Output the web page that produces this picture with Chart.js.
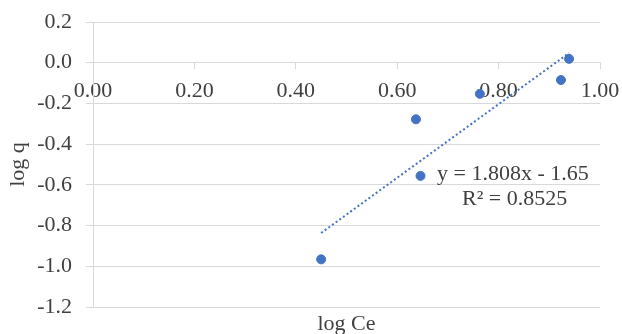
<!DOCTYPE html>
<html>
<head>
<meta charset="utf-8">
<script src="https://cdn.jsdelivr.net/npm/chart.js@4.4.0/dist/chart.umd.min.js"></script>
<style>
  html, body { margin: 0; padding: 0; background: #fff; }
  #wrap { width: 622px; height: 334px; }
</style>
</head>
<body>
<div id="wrap"><canvas id="myChart" width="622" height="334"></canvas></div>
<script>
// datos
const logCe = [0.450, 0.637, 0.646, 0.763, 0.923, 0.939];
const logQ = [-0.966, -0.278, -0.556, -0.153, -0.085, 0.019];
const xTicks = [0, 0.2, 0.4, 0.6, 0.8, 1.0];
const yTicks = [-1.2, -1.0, -0.8, -0.6, -0.4, -0.2, 0.0, 0.2];

// línea de tendencia (ecuación del gráfico)
const slope = 1.808;
const intercept = -1.65;
const eqText = 'y = 1.808x - 1.65';
const r2Text = 'R² = 0.8525';

const blue = '#4472C4';
const gridColor = '#d9d9d9';
const textColor = '#404040';
const fontFam = '"Liberation Serif", "Times New Roman", serif';
const fontSize = 22;

const xMin = Math.min(...logCe);
const xMax = Math.max(...logCe);
const trend = [
    { x: xMin, y: slope * xMin + intercept },
    { x: xMax, y: slope * xMax + intercept }
];

const points = logCe.map((x, i) => ({ x: x, y: logQ[i] }));

// texto de la ecuación
const eqPlugin = {
    id: 'eqText',
    afterDraw(chart) {
        const c = chart.ctx;
        c.save();
        c.font = fontSize + 'px ' + fontFam;
        c.fillStyle = textColor;
        c.textAlign = 'left';
        c.textBaseline = 'alphabetic';
        c.fillText(eqText, 437, 180);
        c.fillText(r2Text, 462, 205);
        c.restore();
    }
};

let myChart = new Chart(document.getElementById('myChart').getContext('2d'), {
    type: 'scatter',
    data: {
        datasets: [{
            label: 'datos',
            data: points,
            backgroundColor: blue,
            borderColor: blue,
            pointRadius: 4.5,
            pointHoverRadius: 4.5
        }, {
            label: 'tendencia',
            data: trend,
            type: 'line',
            showLine: true,
            borderColor: blue,
            borderWidth: 2,
            borderDash: [2, 2.5],
            pointRadius: 0,
            fill: false
        }]
    },
    options: {
        responsive: false,
        animation: false,
        layout: { padding: { top: 22, right: 22, left: 0, bottom: 0 } },
        plugins: {
            legend: { display: false },
            tooltip: { enabled: false }
        },
        scales: {
            x: {
                type: 'linear',
                position: { y: 0 },
                min: 0,
                max: 1,
                afterBuildTicks: (s) => { s.ticks = xTicks.map(v => ({ value: v })); },
                ticks: {
                    color: textColor,
                    font: { family: fontFam, size: fontSize },
                    padding: 9,
                    maxRotation: 0,
                    callback: (v) => v.toFixed(2)
                },
                grid: {
                    drawOnChartArea: false,
                    drawTicks: true,
                    tickLength: 6,
                    color: gridColor
                },
                border: { color: gridColor, width: 1 },
                afterFit: (s) => { s.paddingLeft = 0; s.paddingRight = 0; }
            },
            x2: {
                type: 'linear',
                position: 'bottom',
                min: 0,
                max: 1,
                ticks: { display: false },
                grid: { display: false, drawTicks: false },
                border: { display: false },
                title: {
                    display: true,
                    text: 'log Ce',
                    color: textColor,
                    font: { family: fontFam, size: fontSize, lineHeight: 0.85 },
                    padding: { top: 0, bottom: 0 }
                },
                afterFit: (s) => { s.height = 27; s.paddingLeft = 0; s.paddingRight = 0; }
            },
            y: {
                type: 'linear',
                position: 'left',
                min: -1.2,
                max: 0.2,
                afterBuildTicks: (s) => { s.ticks = yTicks.map(v => ({ value: v })); },
                ticks: {
                    color: textColor,
                    font: { family: fontFam, size: fontSize },
                    padding: 14,
                    callback: (v) => v.toFixed(1)
                },
                grid: {
                    color: gridColor,
                    drawTicks: true,
                    tickLength: 7
                },
                border: { color: gridColor, width: 1 },
                title: {
                    display: true,
                    text: 'log q',
                    color: textColor,
                    font: { family: fontFam, size: fontSize },
                    padding: { top: 5, bottom: 0 }
                },
                afterFit: (s) => { s.width = 93; s.paddingTop = 0; s.paddingBottom = 0; }
            }
        }
    },
    plugins: [eqPlugin]
});
</script>
</body>
</html>
